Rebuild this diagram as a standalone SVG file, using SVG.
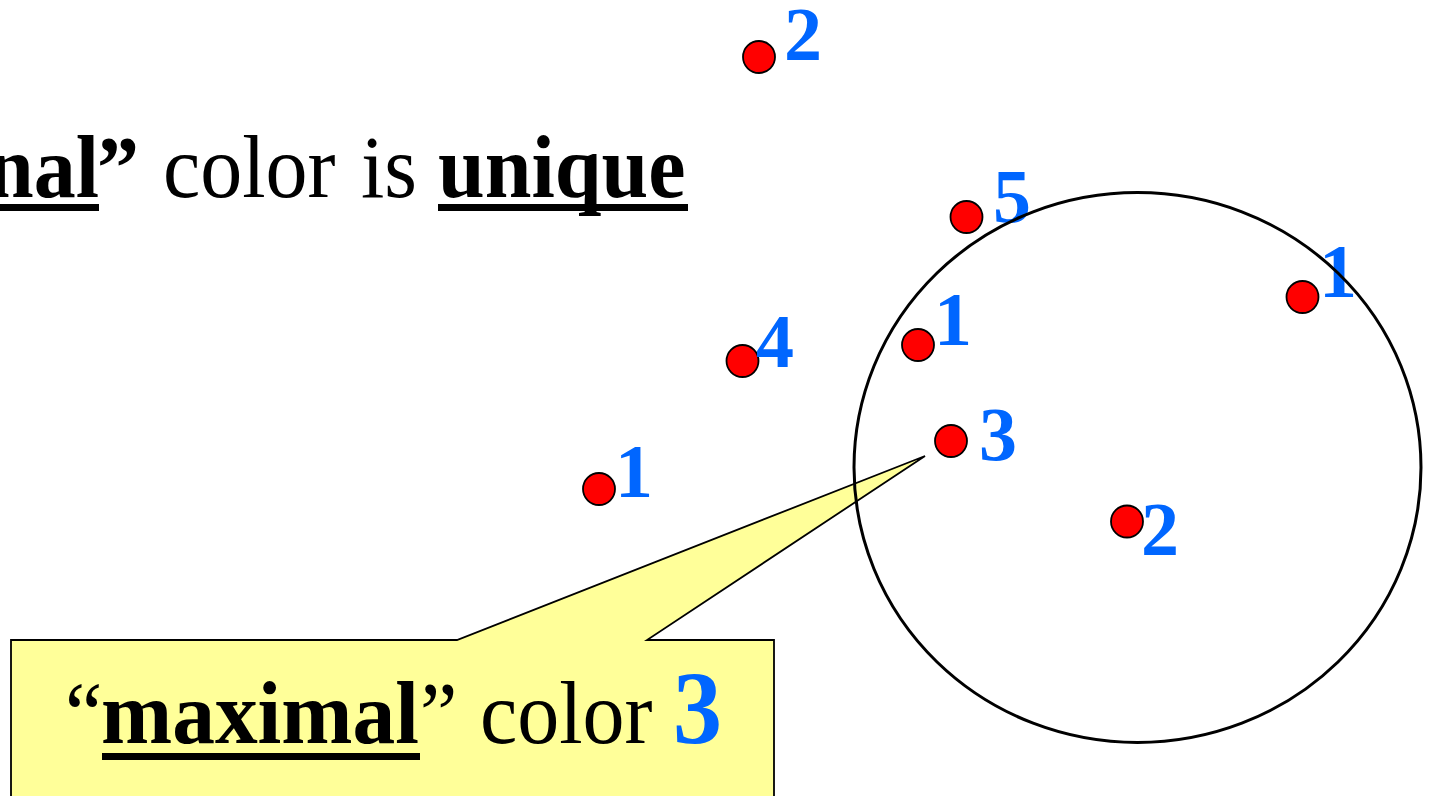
<svg xmlns="http://www.w3.org/2000/svg" width="1429" height="796" viewBox="0 0 1429 796">
  <style>
    .t { font-family: "Liberation Serif", "Times New Roman", serif; font-size: 84px; fill: #000; }
    .b { font-weight: bold; }
    .lbl { font-family: "Liberation Serif", "Times New Roman", serif; font-size: 76px; font-weight: bold; fill: #0066FF; }
    .dot { fill: #FF0000; stroke: #000; stroke-width: 1.8; }
    .ul { fill: #000; }
  </style>
  <rect x="0" y="0" width="1429" height="796" fill="#FFFFFF"/>

  <g id="title">
    <g transform="translate(0,197) scale(1,1.07)">
      <text class="t" y="0"><tspan class="b" x="-13">nal</tspan><tspan class="b" x="97">”</tspan><tspan x="163">color</tspan><tspan x="361">is</tspan><tspan class="b" x="438">unique</tspan></text>
    </g>
    <rect class="ul" x="0" y="204" width="99" height="7"/>
    <rect class="ul" x="438" y="204" width="250" height="7"/>
  </g>

  <g id="callout">
    <polygon points="11,640 457,640 925,456 647,640 774,640 774,800 11,800" fill="#FFFF99" stroke="#000" stroke-width="1.8" stroke-linejoin="miter"/>
    <g transform="translate(0,743) scale(1,1.06)">
      <text class="t" y="0"><tspan x="65">“</tspan><tspan class="b" x="101" textLength="318" lengthAdjust="spacingAndGlyphs">maximal</tspan><tspan x="420">”</tspan><tspan x="480">color</tspan><tspan class="b" x="673" style="font-size:98px;fill:#0066FF">3</tspan></text>
    </g>
    <rect class="ul" x="102" y="753" width="318" height="7"/>
  </g>

  <g id="p-top2"><circle class="dot" cx="759" cy="57" r="16"/><text class="lbl" x="784" y="60">2</text></g>
  <g id="p-5"><circle class="dot" cx="966.5" cy="217" r="16"/><text class="lbl" x="993" y="222">5</text></g>
  <g id="p-4"><circle class="dot" cx="742.5" cy="361" r="16"/><text class="lbl" x="756" y="367">4</text></g>
  <g id="p-1-inner"><circle class="dot" cx="918" cy="345" r="16"/><text class="lbl" x="934" y="345">1</text></g>
  <g id="p-3"><circle class="dot" cx="951" cy="441" r="16"/><text class="lbl" x="979" y="460">3</text></g>
  <g id="p-1-right"><circle class="dot" cx="1302.5" cy="297" r="16"/><text class="lbl" x="1319" y="297">1</text></g>
  <g id="p-2-low"><circle class="dot" cx="1127" cy="521.5" r="16"/><text class="lbl" x="1141" y="555">2</text></g>
  <g id="p-1-left"><circle class="dot" cx="599" cy="489" r="16"/><text class="lbl" x="615" y="497">1</text></g>

  <g id="disk">
    <ellipse cx="1137.5" cy="467.5" rx="283.5" ry="275" fill="none" stroke="#000" stroke-width="3"/>
  </g>
</svg>
